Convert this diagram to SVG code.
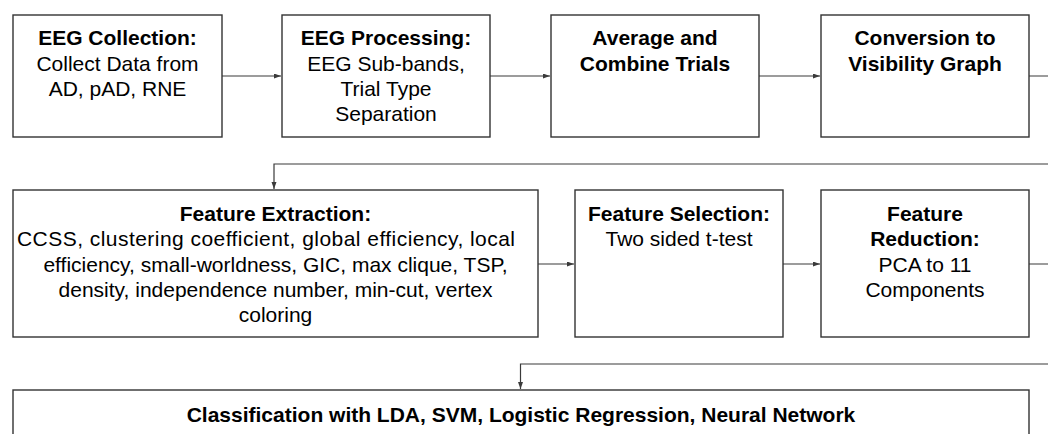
<svg xmlns="http://www.w3.org/2000/svg" width="1048" height="434" viewBox="0 0 1048 434">
<style>
.box{fill:#ffffff;stroke:#333333;stroke-width:1.4}
.con{fill:none;stroke:#3a3a3a;stroke-width:1.2}
text{font-family:"Liberation Sans",Arial,sans-serif;font-size:21px;fill:#000000;text-anchor:middle}
.b{font-weight:bold}
</style>
<defs>
<marker id="ah" markerUnits="userSpaceOnUse" markerWidth="8" markerHeight="6" refX="7" refY="2.5" orient="auto">
<path d="M0,0 L7,2.5 L0,5 z" fill="#3a3a3a"/>
</marker>
</defs>
<rect width="1048" height="434" fill="#ffffff"/>
<g id="connectors">
<path class="con" d="M222,76 H281" marker-end="url(#ah)"/>
<path class="con" d="M490,76 H550" marker-end="url(#ah)"/>
<path class="con" d="M759,76 H820" marker-end="url(#ah)"/>
<path class="con" d="M1029,76 H1060 V164 H274 V189" marker-end="url(#ah)"/>
<path class="con" d="M538,264 H574" marker-end="url(#ah)"/>
<path class="con" d="M783,264 H820" marker-end="url(#ah)"/>
<path class="con" d="M1029,264 H1060 V364 H520.5 V389" marker-end="url(#ah)"/>
</g>
<g id="eeg-collection">
<rect class="box" x="13" y="15" width="209" height="122"/>
<text class="b" x="117.5" y="45">EEG Collection:</text>
<text x="117.5" y="70.5">Collect Data from</text>
<text x="117.5" y="95.8">AD, pAD, RNE</text>
</g>
<g id="eeg-processing">
<rect class="box" x="282" y="15" width="208" height="122"/>
<text class="b" x="386" y="45">EEG Processing:</text>
<text x="386" y="70.5">EEG Sub-bands,</text>
<text x="386" y="95.8">Trial Type</text>
<text x="386" y="121">Separation</text>
</g>
<g id="average-combine">
<rect class="box" x="551" y="15" width="208" height="122"/>
<text class="b" x="655" y="45">Average and</text>
<text class="b" x="655" y="70.5">Combine Trials</text>
</g>
<g id="visibility-graph">
<rect class="box" x="821" y="15" width="208" height="122"/>
<text class="b" x="925" y="45">Conversion to</text>
<text class="b" x="925" y="70.5">Visibility Graph</text>
</g>
<g id="feature-extraction">
<rect class="box" x="13" y="190" width="525" height="147"/>
<text class="b" x="275.5" y="221">Feature Extraction:</text>
<text x="17" y="246.4" style="text-anchor:start" textLength="498" lengthAdjust="spacing">CCSS, clustering coefficient, global efficiency, local</text>
<text x="275.5" y="271.7">efficiency, small-worldness, GIC, max clique, TSP,</text>
<text x="275.5" y="297">density, independence number, min-cut, vertex</text>
<text x="275.5" y="322.2">coloring</text>
</g>
<g id="feature-selection">
<rect class="box" x="575" y="190" width="208" height="147"/>
<text class="b" x="679" y="221">Feature Selection:</text>
<text x="679" y="246.4">Two sided t-test</text>
</g>
<g id="feature-reduction">
<rect class="box" x="821" y="190" width="208" height="147"/>
<text class="b" x="925" y="221">Feature</text>
<text class="b" x="925" y="246.4">Reduction:</text>
<text x="925" y="271.7">PCA to 11</text>
<text x="925" y="297">Components</text>
</g>
<g id="classification">
<rect class="box" x="13" y="390" width="1016" height="80"/>
<text class="b" x="521" y="421.5">Classification with LDA, SVM, Logistic Regression, Neural Network</text>
</g>
</svg>
